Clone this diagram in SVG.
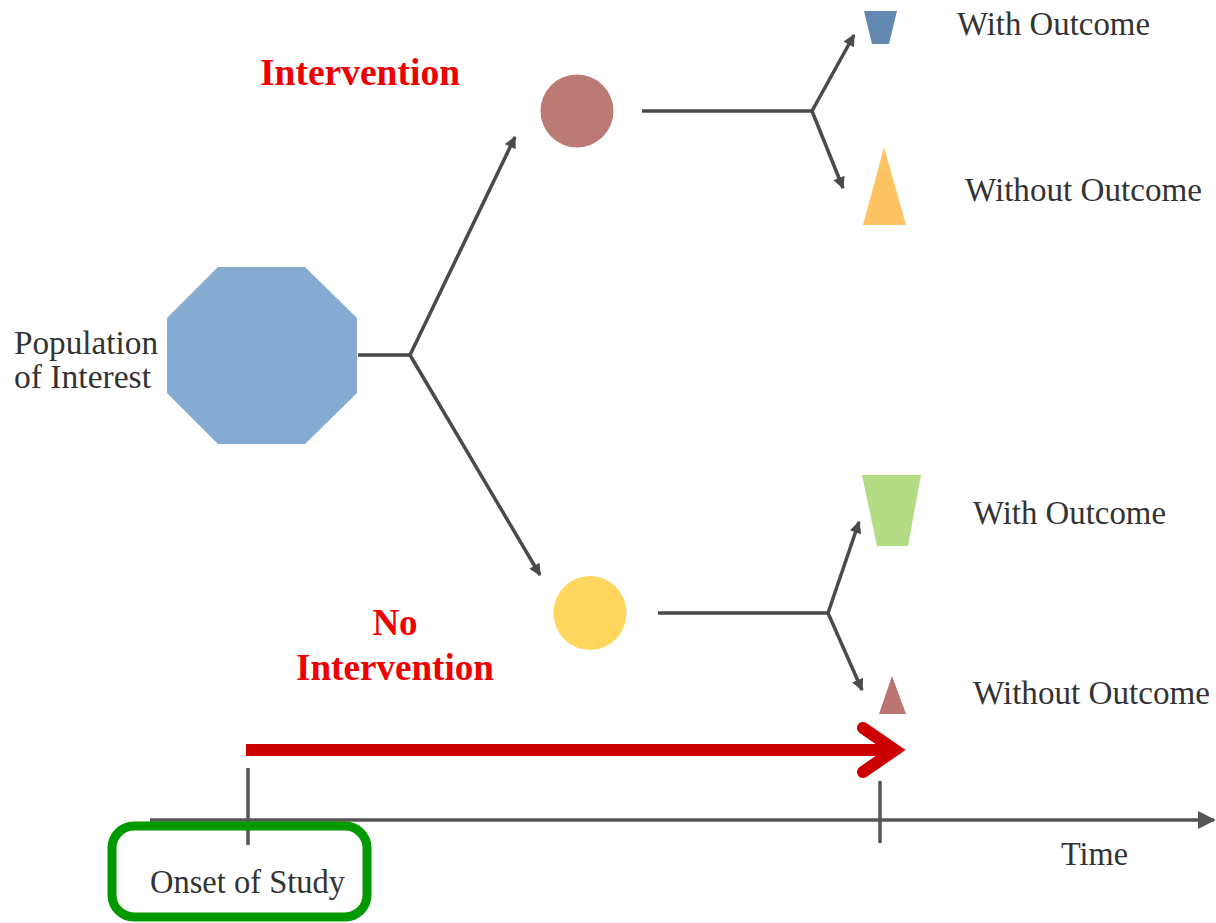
<svg xmlns="http://www.w3.org/2000/svg" width="1216" height="923" viewBox="0 0 1216 923">
  <style>
    .lbl { font-family: "Liberation Serif", "Times New Roman", serif; font-size: 34px; fill: #333333; }
    .red { font-family: "Liberation Serif", "Times New Roman", serif; font-size: 37px; font-weight: bold; fill: #ee0000; }
    .conn { stroke: #4a4a4a; stroke-width: 3.5; fill: none; }
    .axis { stroke: #555555; stroke-width: 3.5; fill: none; }
  </style>
  <defs>
    <marker id="tip" viewBox="0 0 10 10" refX="9" refY="5" markerUnits="userSpaceOnUse" markerWidth="14" markerHeight="12" orient="auto">
      <path d="M0,0 L10,5 L0,10 z" fill="#4a4a4a"/>
    </marker>
    <marker id="axisTip" viewBox="0 0 10 10" refX="9" refY="5" markerUnits="userSpaceOnUse" markerWidth="18" markerHeight="18" orient="auto">
      <path d="M0,0 L10,5 L0,10 z" fill="#555555"/>
    </marker>
  </defs>
  <rect width="1216" height="923" fill="#ffffff"/>

  <!-- branching connectors -->
  <g id="connectors">
    <line class="conn" x1="358" y1="355" x2="410" y2="355"/>
    <line class="conn" x1="410" y1="355" x2="515" y2="137" marker-end="url(#tip)"/>
    <line class="conn" x1="410" y1="355" x2="540" y2="575" marker-end="url(#tip)"/>
    <line class="conn" x1="642" y1="111" x2="812" y2="111"/>
    <line class="conn" x1="812" y1="111" x2="854" y2="35" marker-end="url(#tip)"/>
    <line class="conn" x1="812" y1="111" x2="843" y2="188" marker-end="url(#tip)"/>
    <line class="conn" x1="658" y1="613" x2="828" y2="613"/>
    <line class="conn" x1="828" y1="613" x2="859" y2="522" marker-end="url(#tip)"/>
    <line class="conn" x1="828" y1="613" x2="862" y2="690" marker-end="url(#tip)"/>
  </g>

  <g id="population">
    <polygon points="218,267 305,267 357,318 357,393 305,444 218,444 167,393 167,318" fill="#85abd3"/>
    <text class="lbl" x="14" y="354" textLength="144" lengthAdjust="spacingAndGlyphs">Population</text>
    <text class="lbl" x="14" y="388" textLength="137" lengthAdjust="spacingAndGlyphs">of Interest</text>
  </g>

  <g id="intervention">
    <circle cx="577" cy="111" r="36.5" fill="#bc7a74"/>
    <text class="red" x="360" y="85" text-anchor="middle" textLength="200" lengthAdjust="spacingAndGlyphs">Intervention</text>
  </g>

  <g id="no-intervention">
    <ellipse cx="590" cy="613" rx="36.5" ry="37" fill="#ffd75e"/>
    <text class="red" x="395" y="635" text-anchor="middle">No</text>
    <text class="red" x="395" y="680" text-anchor="middle" textLength="198" lengthAdjust="spacingAndGlyphs">Intervention</text>
  </g>

  <g id="int-with-outcome">
    <polygon points="864,11 897,11 889,44 872,44" fill="#6388b0"/>
    <text class="lbl" x="957" y="35" textLength="193" lengthAdjust="spacingAndGlyphs">With Outcome</text>
  </g>

  <g id="int-without-outcome">
    <polygon points="884,147 906,225 863,225" fill="#fec463"/>
    <text class="lbl" x="965" y="201" textLength="237" lengthAdjust="spacingAndGlyphs">Without Outcome</text>
  </g>

  <g id="noint-with-outcome">
    <polygon points="862,475 921,475 908,546 877,546" fill="#b3dc84"/>
    <text class="lbl" x="973" y="524" textLength="193" lengthAdjust="spacingAndGlyphs">With Outcome</text>
  </g>

  <g id="noint-without-outcome">
    <polygon points="892,676 906,714 879,714" fill="#bb7470"/>
    <text class="lbl" x="973" y="704" textLength="237" lengthAdjust="spacingAndGlyphs">Without Outcome</text>
  </g>

  <!-- time axis -->
  <g id="timeline">
    <line class="axis" x1="150" y1="820" x2="1214" y2="820" marker-end="url(#axisTip)"/>
    <line class="axis" x1="248" y1="768" x2="248" y2="845"/>
    <line class="axis" x1="880" y1="781" x2="880" y2="843"/>
    <text class="lbl" x="1061" y="865" textLength="67" lengthAdjust="spacingAndGlyphs">Time</text>
  </g>

  <g id="follow-up-arrow">
    <line x1="246" y1="750" x2="890" y2="750" stroke="#cc0000" stroke-width="12"/>
    <polyline points="863,728 895,750 863,772" fill="none" stroke="#cc0000" stroke-width="12" stroke-linecap="round" stroke-linejoin="miter"/>
  </g>

  <g id="onset">
    <rect x="112" y="826" width="255" height="91" rx="22" fill="none" stroke="#009900" stroke-width="9"/>
    <text class="lbl" x="150" y="893" textLength="195" lengthAdjust="spacingAndGlyphs">Onset of Study</text>
  </g>
</svg>
